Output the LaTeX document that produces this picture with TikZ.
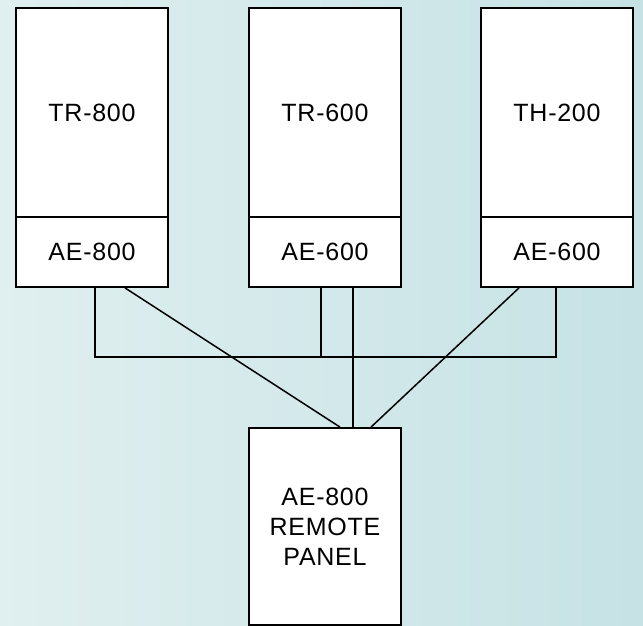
\documentclass[tikz,border=0pt]{standalone}
\usepackage{fontspec}
\setmainfont[LetterSpace=3]{Liberation Sans}
\usetikzlibrary{positioning}
\definecolor{bgL}{RGB}{224,239,239}
\definecolor{bgR}{RGB}{198,226,229}
\tikzset{
  unitbox/.style={draw=black, line width=1.8pt, fill=white, minimum width=152pt, inner sep=0pt, font=\fontsize{25}{30}\selectfont, align=center},
  wire/.style={draw=black, line width=1.5pt}
}
\begin{document}
\begin{tikzpicture}[x=1pt,y=-1pt]
\shade[left color=bgL, right color=bgR] (0,0) rectangle (643,626);
\useasboundingbox (0,0) rectangle (643,626);
% transceivers
\node[unitbox, minimum height=209pt] (tr800) at (92,112.5) {\raisebox{-9pt}{TR-800}};
\node[unitbox, minimum height=70pt] (ae800) at (92,252) {AE-800};
\node[unitbox, minimum height=209pt] (tr600) at (325,112.5) {\raisebox{-9pt}{TR-600}};
\node[unitbox, minimum height=70pt] (ae600a) at (325,252) {AE-600};
\node[unitbox, minimum height=209pt] (th200) at (557,112.5) {\raisebox{-9pt}{TH-200}};
\node[unitbox, minimum height=70pt] (ae600b) at (557,252) {AE-600};
% remote panel
\node[unitbox, minimum height=197pt] (remote) at (325,526.5) {AE-800\\REMOTE\\PANEL};
% bus coordinates
\coordinate (busL) at (95,357);
\coordinate (busM) at (321,357);
\coordinate (busR) at (556,357);
% wires
\draw[wire] ([xshift=3pt]ae800.south) -- (busL) -- (busR) -- ([xshift=-1pt]ae600b.south);
\draw[wire] ([xshift=-4pt]ae600a.south) -- (busM);
\draw[wire] ([xshift=28pt]ae600a.south) -- ([xshift=28pt]remote.north);
\draw[wire] ([xshift=33pt]ae800.south) -- ([xshift=15pt]remote.north);
\draw[wire] ([xshift=-38pt]ae600b.south) -- ([xshift=46pt]remote.north);
\end{tikzpicture}
\end{document}
